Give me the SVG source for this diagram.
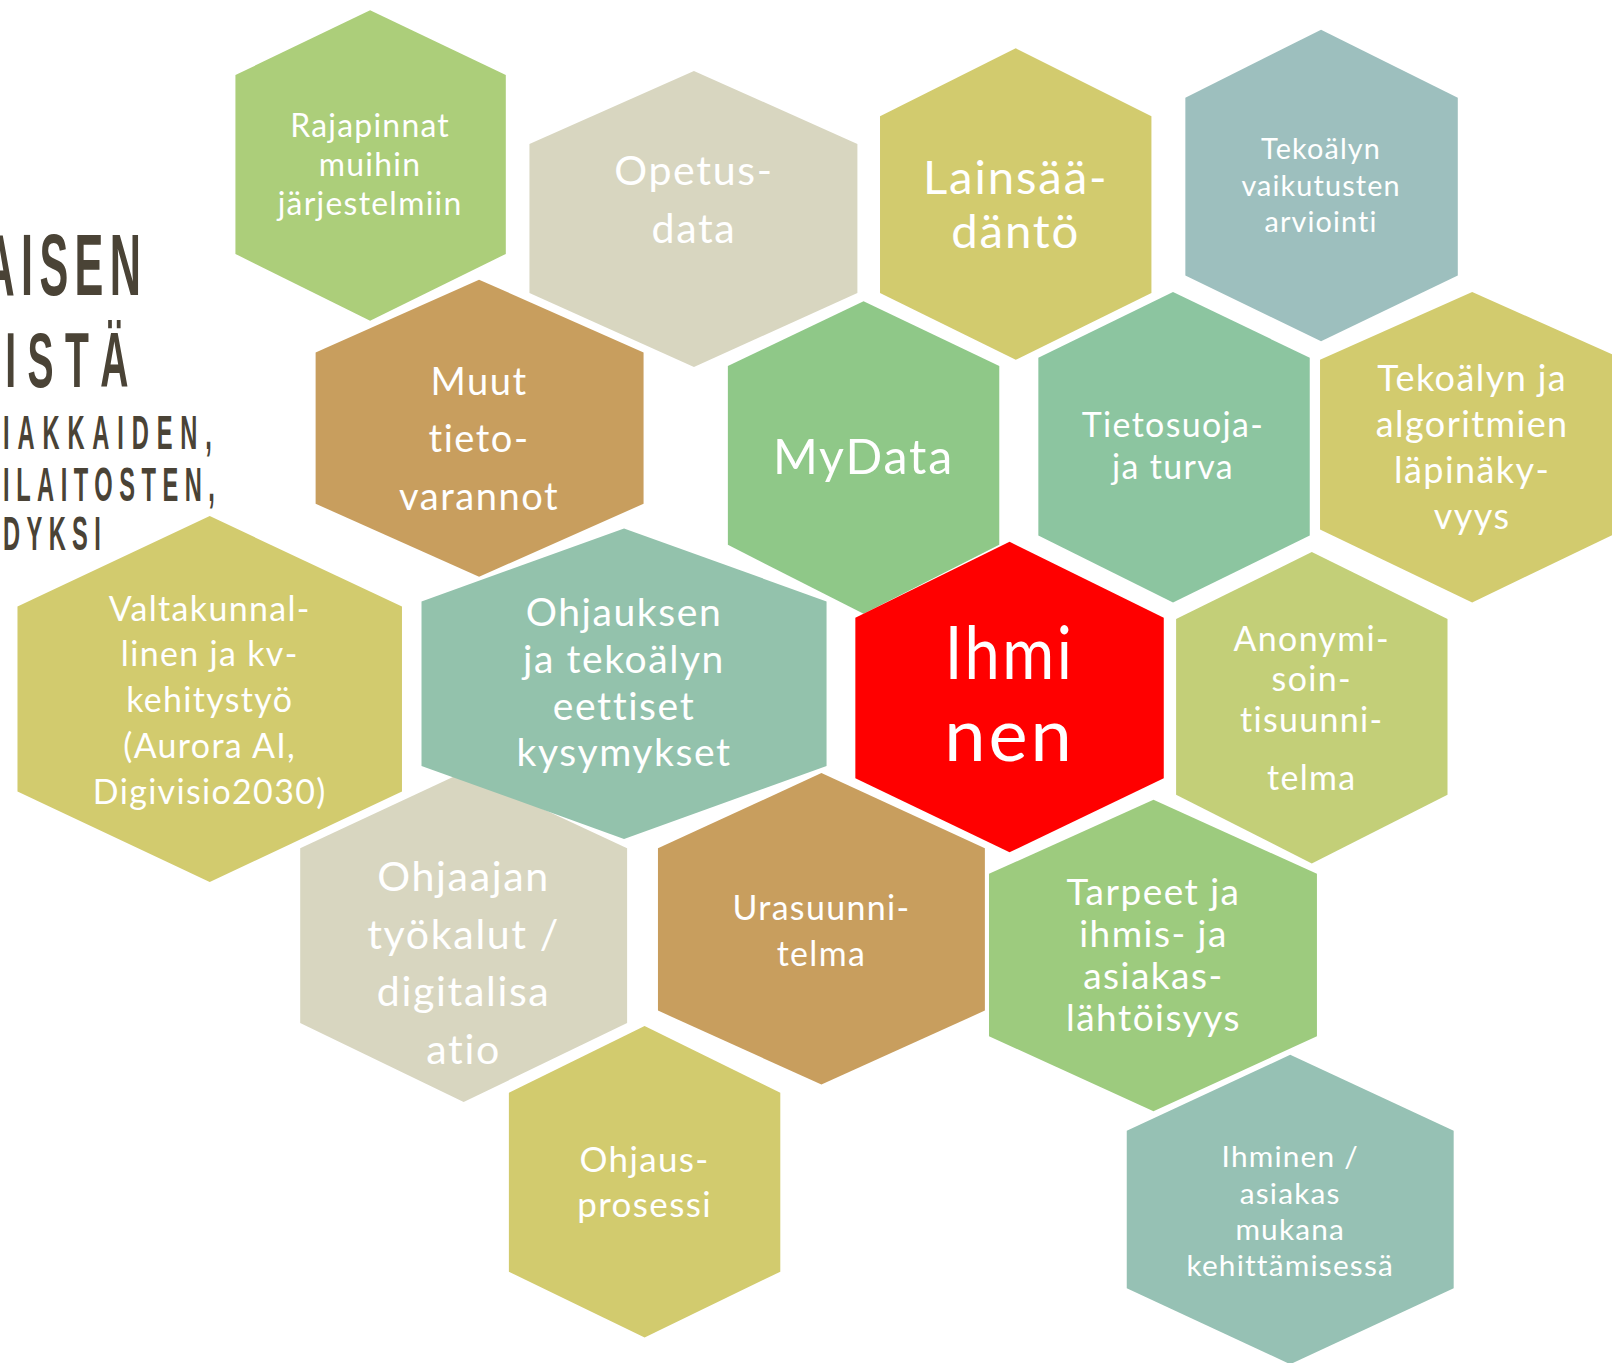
<svg xmlns="http://www.w3.org/2000/svg" width="1612" height="1363" viewBox="0 0 1612 1363">
<style>
.hx{stroke:none}
.t{font-family:Lato,"Open Sans","DejaVu Sans",sans-serif;fill:#ffffff;text-anchor:middle;letter-spacing:0.04em}
.ttl{font-family:"Liberation Sans",Arial,sans-serif;font-weight:bold;fill:#4A4336}
</style>
<rect width="1612" height="1363" fill="#ffffff"/>
<g transform="scale(1.02806)">
<g id="title">
<g transform="translate(-16,0) scale(0.5,1)"><text class="ttl" x="0" y="287" font-size="84" textLength="306" lengthAdjust="spacing">AISEN</text></g>
<g transform="translate(5,0) scale(0.5,1)"><text class="ttl" x="0" y="376" font-size="76" textLength="240" lengthAdjust="spacing">ISTÄ</text></g>
<g transform="translate(3,0) scale(0.5,1)"><text class="ttl" x="0" y="437" font-size="46" textLength="406" lengthAdjust="spacing">IAKKAIDEN,</text></g>
<g transform="translate(3,0) scale(0.5,1)"><text class="ttl" x="0" y="487" font-size="46" textLength="412" lengthAdjust="spacing">ILAITOSTEN,</text></g>
<g transform="translate(3,0) scale(0.5,1)"><text class="ttl" x="0" y="535" font-size="46" textLength="190" lengthAdjust="spacing">DYKSI</text></g>
</g>
<g id="connectors"></g>

<g id="n-rajapinnat">
<path class="hx" fill="#ACCE7A" d="M360,10 L492,73 L492,247 L360,312 L229,247 L229,73 Z"/>
<text class="t" font-size="31"><tspan x="360" y="133">Rajapinnat</tspan><tspan x="360" y="171">muihin</tspan><tspan x="360" y="209">järjestelmiin</tspan></text>
</g>
<g id="n-opetusdata">
<path class="hx" fill="#D8D6C0" d="M675,69 L834,140 L834,285 L675,357 L515,285 L515,140 Z"/>
<text class="t" font-size="40"><tspan x="675" y="180">Opetus-</tspan><tspan x="675" y="236">data</tspan></text>
</g>
<g id="n-lainsaadanto">
<path class="hx" fill="#D2CB6E" d="M988,47 L1120,113 L1120,285 L988,350 L856,285 L856,113 Z"/>
<text class="t" font-size="46"><tspan x="988" y="189">Lainsää-</tspan><tspan x="988" y="241">däntö</tspan></text>
</g>
<g id="n-vaikutusten">
<path class="hx" fill="#9DBFBE" d="M1285,29 L1418,95 L1418,268 L1285,332 L1153,268 L1153,95 Z"/>
<text class="t" font-size="28"><tspan x="1285" y="155">Tekoälyn</tspan><tspan x="1285" y="191">vaikutusten</tspan><tspan x="1285" y="226">arviointi</tspan></text>
</g>
<g id="n-muut">
<path class="hx" fill="#C89E5E" d="M466,272 L626,343 L626,490 L466,561 L307,490 L307,343 Z"/>
<text class="t" font-size="37"><tspan x="466" y="384">Muut</tspan><tspan x="466" y="440">tieto-</tspan><tspan x="466" y="496">varannot</tspan></text>
</g>
<g id="n-mydata">
<path class="hx" fill="#8FC888" d="M840,293 L972,356 L972,530 L840,597 L708,530 L708,356 Z"/>
<text class="t" font-size="47"><tspan x="840" y="461">MyData</tspan></text>
</g>
<g id="n-tietosuoja">
<path class="hx" fill="#8CC5A0" d="M1141,284 L1274,348 L1274,521 L1141,586 L1010,521 L1010,348 Z"/>
<text class="t" font-size="33"><tspan x="1141" y="425">Tietosuoja-</tspan><tspan x="1141" y="466">ja turva</tspan></text>
</g>
<g id="n-lapinakyvyys">
<path class="hx" fill="#D2CB6E" d="M1432,284 L1580,350 L1580,515 L1432,586 L1284,515 L1284,350 Z"/>
<text class="t" font-size="35"><tspan x="1432" y="380">Tekoälyn ja</tspan><tspan x="1432" y="425">algoritmien</tspan><tspan x="1432" y="470">läpinäky-</tspan><tspan x="1432" y="515">vyys</tspan></text>
</g>
<g id="n-valtakunnallinen">
<path class="hx" fill="#D2CB6E" d="M204,502 L391,590 L391,770 L204,858 L17,770 L17,590 Z"/>
<text class="t" font-size="33"><tspan x="204" y="604">Valtakunnal-</tspan><tspan x="204" y="648">linen ja kv-</tspan><tspan x="204" y="693">kehitystyö</tspan><tspan x="204" y="737">(Aurora AI,</tspan><tspan x="204" y="782">Digivisio2030)</tspan></text>
</g>
<g id="n-ohjaajan">
<path class="hx" fill="#D8D6C0" d="M451,751 L610,825 L610,995 L451,1072 L292,995 L292,825 Z"/>
<text class="t" font-size="40"><tspan x="451" y="867">Ohjaajan</tspan><tspan x="451" y="923">työkalut /</tspan><tspan x="451" y="979">digitalisa</tspan><tspan x="451" y="1035">atio</tspan></text>
</g>
<g id="n-eettiset">
<path class="hx" fill="#93C2AC" stroke="#ffffff" stroke-width="2" d="M607,514 L804,585 L804,745 L607,816 L410,745 L410,585 Z"/>
<text class="t" font-size="38"><tspan x="607" y="609">Ohjauksen</tspan><tspan x="607" y="655">ja tekoälyn</tspan><tspan x="607" y="700">eettiset</tspan><tspan x="607" y="745">kysymykset</tspan></text>
</g>
<g id="n-ihminen">
<path class="hx" fill="#FF0000" stroke="#ffffff" stroke-width="2.5" d="M982,527 L1132,601 L1132,757 L982,829 L832,757 L832,601 Z"/>
<text class="t" font-size="72" letter-spacing="0"><tspan x="982" y="660" textLength="126" lengthAdjust="spacingAndGlyphs">Ihmi</tspan><tspan x="982" y="740">nen</tspan></text>
</g>
<g id="n-anonymisointi">
<path class="hx" fill="#C3CF78" d="M1276,537 L1408,602 L1408,773 L1276,840 L1144,773 L1144,602 Z"/>
<text class="t" font-size="33"><tspan x="1276" y="633">Anonymi-</tspan><tspan x="1276" y="672">soin-</tspan><tspan x="1276" y="712">tisuunni-</tspan><tspan x="1276" y="768">telma</tspan></text>
</g>
<g id="n-urasuunnitelma">
<path class="hx" fill="#C89E5E" d="M799,752 L958,825 L958,983 L799,1055 L640,983 L640,825 Z"/>
<text class="t" font-size="33"><tspan x="799" y="895">Urasuunni-</tspan><tspan x="799" y="940">telma</tspan></text>
</g>
<g id="n-tarpeet">
<path class="hx" fill="#9DCB7E" d="M1122,778 L1281,850 L1281,1008 L1122,1081 L962,1008 L962,850 Z"/>
<text class="t" font-size="36"><tspan x="1122" y="880">Tarpeet ja</tspan><tspan x="1122" y="921">ihmis- ja</tspan><tspan x="1122" y="962">asiakas-</tspan><tspan x="1122" y="1003">lähtöisyys</tspan></text>
</g>
<g id="n-ohjausprosessi">
<path class="hx" fill="#D2CB6E" d="M627,998 L759,1063 L759,1237 L627,1301 L495,1237 L495,1063 Z"/>
<text class="t" font-size="34"><tspan x="627" y="1140">Ohjaus-</tspan><tspan x="627" y="1184">prosessi</tspan></text>
</g>
<g id="n-asiakas">
<path class="hx" fill="#96C1B4" d="M1255,1026 L1414,1100 L1414,1253 L1255,1327 L1096,1253 L1096,1100 Z"/>
<text class="t" font-size="29"><tspan x="1255" y="1135">Ihminen /</tspan><tspan x="1255" y="1171">asiakas</tspan><tspan x="1255" y="1206">mukana</tspan><tspan x="1255" y="1241">kehittämisessä</tspan></text>
</g>
</g>
</svg>
